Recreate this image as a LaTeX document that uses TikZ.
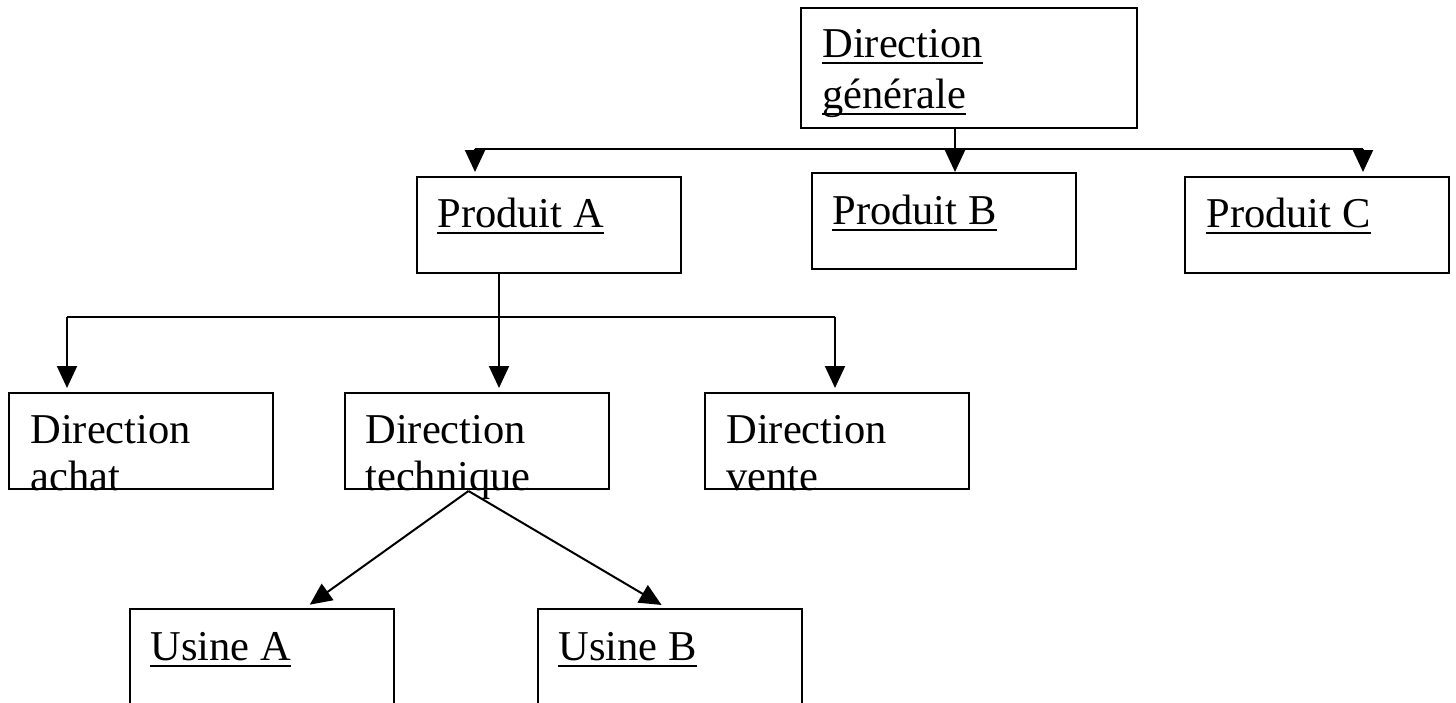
\documentclass[tikz,border=0pt]{standalone}
\usepackage{fontspec}
\setmainfont{Liberation Serif}
\usetikzlibrary{arrows.meta,calc}
\newcommand\undl[1]{\leavevmode\setbox0\hbox{#1}\rlap{\rule[-3.5pt]{\wd0}{1pt}}\box0}

\begin{document}
\begin{tikzpicture}[x=0.5pt,y=-0.5pt,
    box/.style={draw,line width=1pt,minimum width=132pt,minimum height=48pt,inner sep=0pt},
    lbl/.style={anchor=base west,inner sep=0pt,align=left,
      font=\fontsize{21.25}{23.5}\selectfont},
    conn/.style={line width=1pt},
    arr/.style={conn,shorten >=2pt,-{Triangle[width=10pt,length=11pt]}}]
    \clip (0,0) rectangle (1456,702);
    % boxes
    \node[box,minimum width=168pt,minimum height=60pt] (dg) at (969,68) {};
    \node[box] (pa) at (549,225) {};
    \node[box] (pb) at (943.5,221) {};
    \node[box] (pc) at (1316.5,225) {};
    \node[box] (da) at (140.5,441) {};
    \node[box] (dt) at (476.5,441) {};
    \node[box] (dv) at (836.5,441) {};
    \node[box] (ua) at (261.5,657) {};
    \node[box] (ub) at (670,657) {};
    % bus points
    \coordinate (t1) at (475,149);
    \coordinate (t2) at (955,149);
    \coordinate (t3) at (1363,149);
    \coordinate (m1) at (67,317);
    \coordinate (m2) at (499,317);
    \coordinate (m3) at (835,317);
    \coordinate (fork) at ($(dt.south)+(-8,1)$);
    % connectors
    \draw[conn] (t1) -- (t3);
    \draw[arr,shorten >=0pt] (dg.south -| t2) -- (t2 |- pb.north);
    \draw[arr] (t1) -- (t1 |- pa.north);
    \draw[arr] (t3) -- (t3 |- pc.north);
    \draw[conn] (m1) -- (m3);
    \draw[arr] (pa.south -| m2) -- (m2 |- dt.north);
    \draw[arr] (m1) -- (m1 |- da.north);
    \draw[arr] (m3) -- (m3 |- dv.north);
    \draw[arr] (fork) -- ($(ua.north)+(45,-1)$);
    \draw[arr] (fork) -- ($(ub.north)+(-5,-1)$);
    % labels (base = last line)
    \node[lbl] (dg-t) at (822,108) {\undl{Direction}\\[2pt]\undl{générale}};
    \node[lbl] (pa-t) at (437,227) {\undl{Produit A}};
    \node[lbl] (pb-t) at (832,224) {\undl{Produit B}};
    \node[lbl] (pc-t) at (1206,227) {\undl{Produit C}};
    \node[lbl] (da-t) at (30,490) {Direction\\achat};
    \node[lbl] (dt-t) at (365,490) {Direction\\technique};
    \node[lbl] (dv-t) at (726,490) {Direction\\vente};
    \node[lbl] (ua-t) at (150,660) {\undl{Usine A}};
    \node[lbl] (ub-t) at (558,660) {\undl{Usine B}};
\end{tikzpicture}
\end{document}
